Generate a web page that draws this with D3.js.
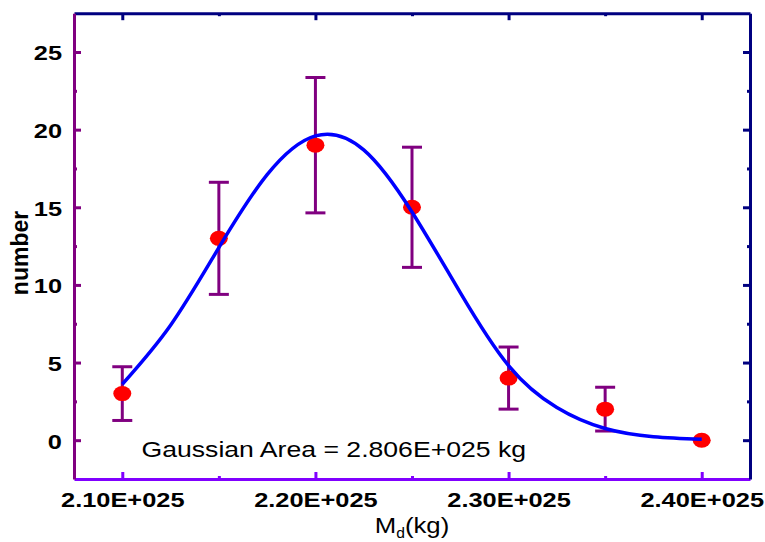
<!DOCTYPE html>
<html>
<head>
<meta charset="utf-8">
<script src="https://cdn.jsdelivr.net/npm/d3@7"></script>
<style>
  html, body { margin: 0; padding: 0; background: #fff; }
  svg { display: block; }
</style>
</head>
<body>
<svg id="chart" width="765" height="542"></svg>
<script>
// ---- data (mass in units of 1E+025 kg) ----
const massX = [2.10, 2.15, 2.20, 2.25, 2.30, 2.35, 2.40];
const counts = [3, 13, 19, 15, 4, 2, 0];
const errors = [1.73, 3.61, 4.36, 3.87, 2.0, 1.41, 0];

// Gaussian fit curve
const fitX = [2.100, 2.125, 2.150, 2.175, 2.200, 2.225, 2.250, 2.275, 2.300, 2.325, 2.350, 2.375, 2.400];
const fitY = [3.6, 7.4, 12.4, 17.1, 19.6, 18.7, 14.7, 9.5, 4.8, 2.1, 0.75, 0.22, 0.06];

const xMajor = [2.10, 2.20, 2.30, 2.40];
const xMinor = [2.15, 2.25, 2.35];
const xTickLabels = ["2.10E+025", "2.20E+025", "2.30E+025", "2.40E+025"];
const yMajor = [0, 5, 10, 15, 20, 25];
const yMinor = [2.5, 7.5, 12.5, 17.5, 22.5];
const yTickLabels = ["0", "5", "10", "15", "20", "25"];

const annotation = "Gaussian Area = 2.806E+025 kg";
const yTitle = "number";

// ---- layout ----
const L = 74, R = 750, T = 13.2, B = 479;
const svg = d3.select("#chart");
const x = d3.scaleLinear().domain([2.075, 2.425]).range([L, R]);
const y = d3.scaleLinear().domain([-2.5, 27.5]).range([B, T]);

const FONT = "'Liberation Sans', Arial, Helvetica, sans-serif";
const SX = 1.21; // horizontal stretch of text in reference

function styleAxis(g, color) {
  g.select(".domain").attr("stroke", color).attr("stroke-width", 3);
  g.selectAll(".tick line").attr("stroke", color).attr("stroke-width", 3);
}

// bottom axis
const gB = svg.append("g").attr("transform", `translate(0,${B})`);
gB.call(d3.axisBottom(x).tickValues(xMinor).tickSize(-3).tickSizeOuter(0).tickFormat(""));
styleAxis(gB, "#8000ff");
const gB2 = svg.append("g").attr("transform", `translate(0,${B})`);
gB2.call(d3.axisBottom(x).tickValues(xMajor).tickSize(-7).tickSizeOuter(0).tickPadding(13)
  .tickFormat((d, i) => xTickLabels[i]));
styleAxis(gB2, "#8000ff");
gB2.select(".domain").remove();
gB2.selectAll(".tick text")
  .attr("fill", "#000").attr("font-family", FONT).attr("font-size", 21).attr("font-weight", "bold")
  .attr("transform", `scale(${SX},1)`);

// top axis
const gT = svg.append("g").attr("transform", `translate(0,${T})`);
gT.call(d3.axisTop(x).tickValues(xMinor).tickSize(-3).tickSizeOuter(0).tickFormat(""));
styleAxis(gT, "#000080");
const gT2 = svg.append("g").attr("transform", `translate(0,${T})`);
gT2.call(d3.axisTop(x).tickValues(xMajor).tickSize(-7).tickSizeOuter(0).tickFormat(""));
styleAxis(gT2, "#000080");
gT2.select(".domain").remove();

// left axis
const gL = svg.append("g").attr("transform", `translate(${L},0)`);
gL.call(d3.axisLeft(y).tickValues(yMinor).tickSize(-3).tickSizeOuter(0).tickFormat(""));
styleAxis(gL, "#800080");
const gL2 = svg.append("g").attr("transform", `translate(${L},0)`);
gL2.call(d3.axisLeft(y).tickValues(yMajor).tickSize(-7).tickSizeOuter(0).tickPadding(12)
  .tickFormat((d, i) => yTickLabels[i]));
styleAxis(gL2, "#800080");
gL2.select(".domain").remove();
gL2.selectAll(".tick text")
  .attr("fill", "#000").attr("font-family", FONT).attr("font-size", 21).attr("font-weight", "bold")
  .attr("x", -12 / SX).attr("dy", "0.38em")
  .attr("transform", `scale(${SX},1)`);

// right axis
const gR = svg.append("g").attr("transform", `translate(${R},0)`);
gR.call(d3.axisRight(y).tickValues(yMinor).tickSize(-3).tickSizeOuter(0).tickFormat(""));
styleAxis(gR, "#000080");
const gR2 = svg.append("g").attr("transform", `translate(${R},0)`);
gR2.call(d3.axisRight(y).tickValues(yMajor).tickSize(-7).tickSizeOuter(0).tickFormat(""));
styleAxis(gR2, "#000080");
gR2.select(".domain").remove();

// error bars
const eb = svg.append("g").attr("stroke", "#800080").attr("stroke-width", 3).attr("fill", "none");
massX.forEach((mx, i) => {
  if (errors[i] <= 0) return;
  const cx = x(mx), y1 = y(counts[i] + errors[i]), y2 = y(counts[i] - errors[i]);
  eb.append("line").attr("x1", cx).attr("x2", cx).attr("y1", y1).attr("y2", y2);
  eb.append("line").attr("x1", cx - 10).attr("x2", cx + 10).attr("y1", y1).attr("y2", y1);
  eb.append("line").attr("x1", cx - 10).attr("x2", cx + 10).attr("y1", y2).attr("y2", y2);
});

// points
svg.append("g").selectAll("ellipse").data(massX).join("ellipse")
  .attr("cx", d => x(d)).attr("cy", (d, i) => y(counts[i]))
  .attr("rx", 9).attr("ry", 7.5).attr("fill", "#ff0000");

// fit curve
const line = d3.line().x(d => x(d[0])).y(d => y(d[1])).curve(d3.curveNatural);
svg.append("path").datum(fitX.map((d, i) => [d, fitY[i]]))
  .attr("d", line).attr("fill", "none").attr("stroke", "#0000ff").attr("stroke-width", 3.5);

// annotation
svg.append("text").attr("transform", `translate(141.5,457) scale(${SX},1)`)
  .attr("font-family", FONT).attr("font-size", 22).attr("fill", "#000").text(annotation);

// y title
svg.append("text").attr("transform", "translate(28,253) rotate(-90)")
  .attr("text-anchor", "middle").attr("font-family", FONT).attr("font-size", 23)
  .attr("font-weight", "bold").attr("fill", "#000").text(yTitle);

// x title M_d(kg)
const xt = svg.append("text").attr("transform", `translate(${(L + R) / 2},533) scale(1.12,1)`)
  .attr("text-anchor", "middle").attr("font-family", FONT).attr("font-size", 23).attr("fill", "#000");
xt.append("tspan").text("M");
xt.append("tspan").attr("font-size", 14).attr("dy", 5).text("d");
xt.append("tspan").attr("dy", -5).text("(kg)");
</script>
</body>
</html>
